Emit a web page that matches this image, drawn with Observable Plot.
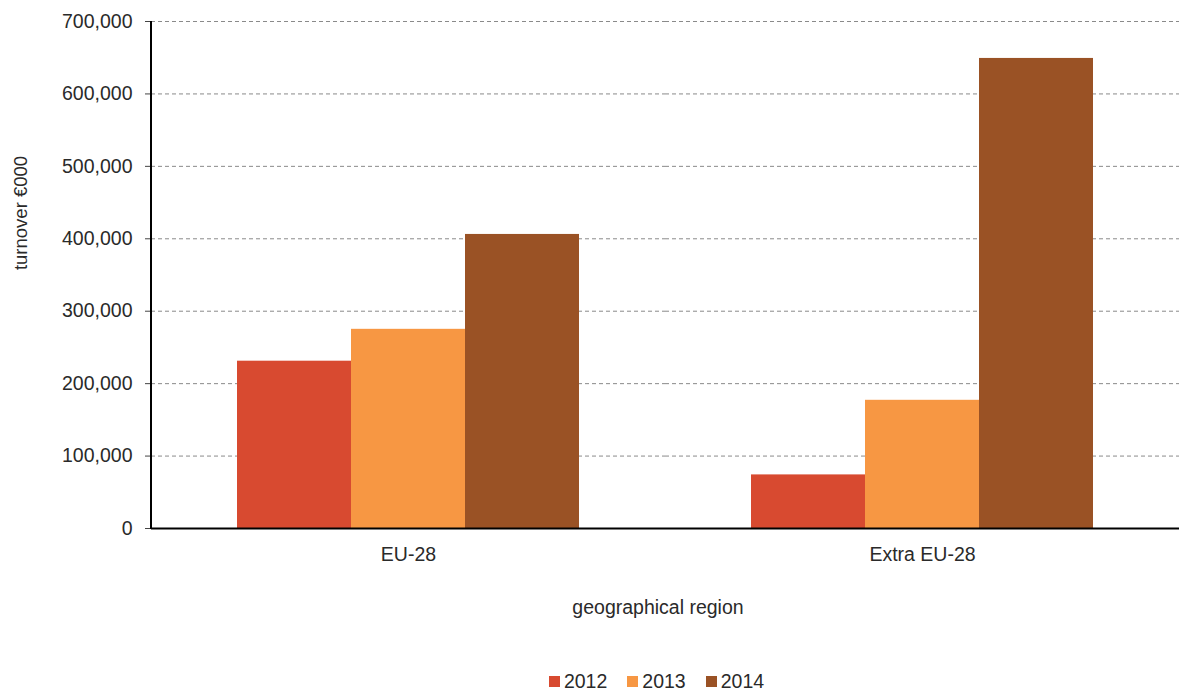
<!DOCTYPE html>
<html>
<head>
<meta charset="utf-8">
<script src="https://cdn.jsdelivr.net/npm/d3@7"></script>
<script src="https://cdn.jsdelivr.net/npm/@observablehq/plot@0.6"></script>
<style>
  html, body { margin: 0; padding: 0; background: #fff; }
  #wrap { position: relative; width: 1179px; height: 693px; font-family: "Liberation Sans", Arial, sans-serif; }
  #legend { position: absolute; left: 142px; width: 1029px; top: 665px; }
  .lg-swatches-wrap { justify-content: center; min-height: 33px !important; margin: 0 !important; gap: 20px; font-family: "Liberation Sans", Arial, sans-serif !important; font-size: 19.5px !important; color: #2a2a2a !important; }
  .lg-swatch { margin-right: 0 !important; }
  .lg-swatch > svg { margin-right: 4px !important; }
</style>
</head>
<body>
<div id="wrap"><div id="chart"></div><div id="legend"></div></div>
<script>
const regions = ["EU-28", "Extra EU-28"];
const years = ["2012", "2013", "2014"];
const eu28 = [231000, 275000, 406000];
const extraEu28 = [74000, 177000, 649000];
const yTicks = [0, 100000, 200000, 300000, 400000, 500000, 600000, 700000];
const colors = ["#d84a30", "#f79743", "#9a5225"];
const xTitle = "geographical region";
const yTitle = "turnover €000";

const series = [eu28, extraEu28];
const data = [];
regions.forEach((r, i) => years.forEach((yr, j) => data.push({region: r, year: yr, value: series[i][j]})));

const font = "Liberation Sans, Arial, sans-serif";

const plot = Plot.plot({
  width: 1179,
  height: 650,
  marginTop: 21,
  marginBottom: 122,
  marginLeft: 150,
  marginRight: 0,
  style: {fontFamily: font, fontSize: "19.5px", background: "#fff"},
  fx: {domain: regions, padding: 0, label: null},
  x: {domain: years, axis: null, paddingInner: 0, paddingOuter: 0.743},
  y: {domain: [0, 700000], label: null},
  color: {domain: years, range: colors, type: "ordinal"},
  marks: [
    Plot.gridY(yTicks, {stroke: "#8a8a8a", strokeOpacity: 1, strokeDasharray: "4,3", strokeWidth: 1}),
    Plot.barY(data, {fx: "region", x: "year", y: "value", fill: "year"}),
    Plot.ruleY([0], {stroke: "#000", strokeWidth: 2}),
    Plot.axisY(yTicks, {tickSize: 6, tickPadding: 13, tickFormat: d3.format(","), fill: "#2a2a2a", stroke: "#444", fontSize: 19.5, label: null}),
    Plot.axisFx({anchor: "bottom", tickSize: 0, tickPadding: 19, fill: "#2a2a2a", fontSize: 19.5, label: null})
  ]
});

const svg = d3.select(plot.tagName.toLowerCase() === "svg" ? plot : plot.querySelector("svg"));
const ys = plot.scale("y");
svg.append("line")
  .attr("x1", 151).attr("x2", 151)
  .attr("y1", ys.apply(0) + 1).attr("y2", ys.apply(700000))
  .attr("stroke", "#000").attr("stroke-width", 2);
svg.append("text")
  .attr("transform", "translate(20,213) rotate(-90)")
  .attr("text-anchor", "middle").attr("dominant-baseline", "central")
  .attr("fill", "#2a2a2a").attr("font-size", 18.5).attr("font-family", font)
  .text(yTitle);
svg.append("text")
  .attr("x", 658).attr("y", 614)
  .attr("text-anchor", "middle")
  .attr("fill", "#2a2a2a").attr("font-size", 19.5).attr("font-family", font)
  .text(xTitle);

document.getElementById("chart").appendChild(plot);
document.getElementById("legend").appendChild(plot.legend("color", {swatchSize: 11, className: "lg"}));
</script>
</body>
</html>
